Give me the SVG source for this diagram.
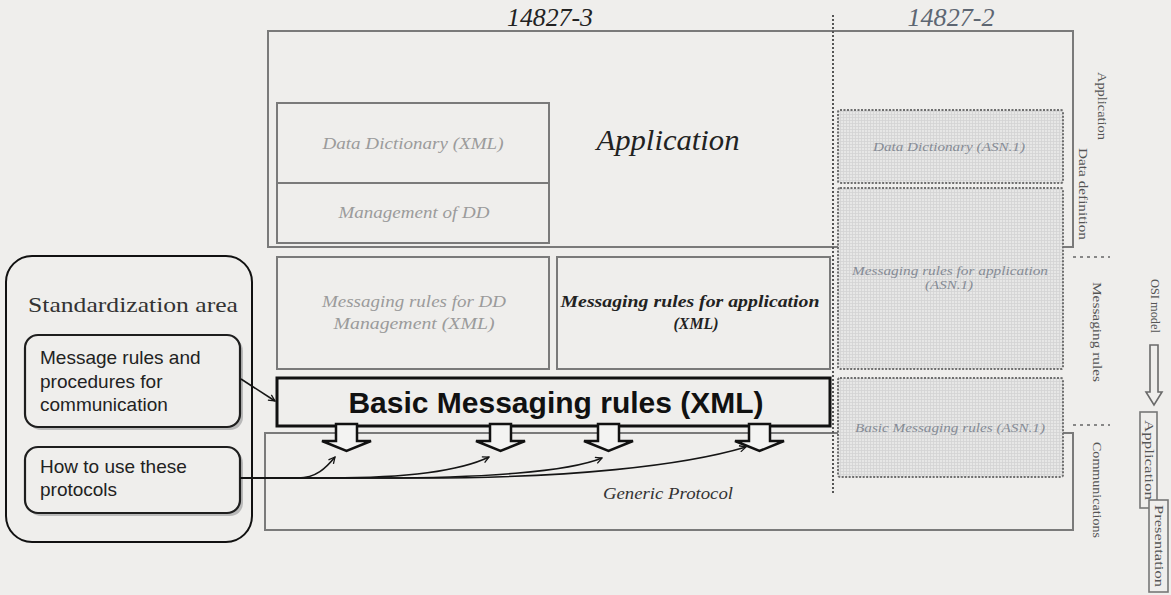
<svg xmlns="http://www.w3.org/2000/svg" width="1171" height="595" viewBox="0 0 1171 595">
  <style>
    .bg { fill: #efeeec; }
    .layer { fill: none; stroke: #7a7a7a; stroke-width: 2; }
    .cell { fill: none; stroke: #7a7a7a; stroke-width: 2; }
    .asn { fill: url(#grid); stroke: #6f6f6f; stroke-width: 2; stroke-dasharray: 2 1.5; }
    .serif { font-family: "Liberation Serif", "DejaVu Serif", serif; }
    .sans { font-family: "Liberation Sans", Arial, sans-serif; }
    .it { font-style: italic; }
    .pale { fill: #9b9b9b; }
    .asntxt { fill: #858b95; font-size: 13px; }
    .dark { fill: #222222; }
    .side { fill: #555555; font-size: 12.5px; }
    .rbox { fill: #efeeec; stroke: #1e1e1e; stroke-width: 2.2; }
    .shadow { fill: #b9b9b9; }
    .blk { fill: #efeeec; stroke: #111111; stroke-width: 3; }
    .down { fill: #f3f3f2; stroke: #111111; stroke-width: 2.5; stroke-linejoin: miter; }
    .link { fill: none; stroke: #151515; stroke-width: 1.6; }
    .tick { fill: none; stroke: #666666; stroke-width: 1.5; stroke-dasharray: 3 4; }
  </style>
  <defs>
    <pattern id="grid" width="3" height="3" patternUnits="userSpaceOnUse">
      <rect width="3" height="3" fill="#e7e7e6"/>
      <path d="M0,0.5 H3 M0.5,0 V3" stroke="#d3d3d3" stroke-width="0.8"/>
    </pattern>
    <marker id="open" viewBox="0 0 10 10" refX="9" refY="5" markerWidth="8" markerHeight="8" markerUnits="userSpaceOnUse" orient="auto">
      <path d="M1,1 L9,5 L1,9" fill="none" stroke="#151515" stroke-width="1.6"/>
    </marker>
  </defs>

  <rect class="bg" x="0" y="0" width="1171" height="595"/>

  <!-- part headings -->
  <g id="headings">
    <text class="serif it dark" x="550" y="26" font-size="26" text-anchor="middle" textLength="86" lengthAdjust="spacingAndGlyphs">14827-3</text>
    <text class="serif it" x="951" y="26" font-size="26" fill="#5d6672" text-anchor="middle" textLength="87" lengthAdjust="spacingAndGlyphs">14827-2</text>
  </g>

  <!-- application layer frame -->
  <g id="application-layer">
    <rect class="layer" x="268" y="31" width="805" height="216"/>
    <text class="serif it dark" x="668" y="150" font-size="30" text-anchor="middle" textLength="143" lengthAdjust="spacingAndGlyphs">Application</text>
  </g>

  <!-- communications layer frame -->
  <g id="generic-protocol">
    <rect class="layer" x="265" y="433" width="808" height="97"/>
    <text class="serif it" x="668" y="499" font-size="16" fill="#333" text-anchor="middle" textLength="130" lengthAdjust="spacingAndGlyphs">Generic Protocol</text>
  </g>

  <!-- 14827-2 / 14827-3 divider -->
  <line id="divider" x1="833" y1="15" x2="833" y2="493" stroke="#555" stroke-width="2" stroke-dasharray="2 2"/>

  <!-- XML column -->
  <g id="dd-xml">
    <rect class="cell" x="277" y="103" width="272" height="80"/>
    <text class="serif it pale" x="413" y="149" font-size="17" text-anchor="middle" textLength="181" lengthAdjust="spacingAndGlyphs">Data Dictionary (XML)</text>
  </g>
  <g id="dd-management">
    <rect class="cell" x="277" y="183" width="272" height="60"/>
    <text class="serif it pale" x="414" y="218" font-size="17" text-anchor="middle" textLength="151" lengthAdjust="spacingAndGlyphs">Management of DD</text>
  </g>
  <g id="msg-dd-xml">
    <rect class="cell" x="277" y="257" width="272" height="112"/>
    <text class="serif it pale" x="414" y="307" font-size="17" text-anchor="middle" textLength="184" lengthAdjust="spacingAndGlyphs">Messaging rules for DD</text>
    <text class="serif it pale" x="414" y="329" font-size="17" text-anchor="middle" textLength="161" lengthAdjust="spacingAndGlyphs">Management (XML)</text>
  </g>
  <g id="msg-app-xml">
    <rect class="cell" x="557" y="257" width="273" height="112"/>
    <text class="serif it dark" x="690" y="307" font-size="17" font-weight="bold" text-anchor="middle" textLength="259" lengthAdjust="spacingAndGlyphs">Messaging rules for application</text>
    <text class="serif it dark" x="696" y="329" font-size="17" font-weight="bold" text-anchor="middle" textLength="45" lengthAdjust="spacingAndGlyphs">(XML)</text>
  </g>
  <g id="basic-xml">
    <rect class="blk" x="277" y="378" width="553" height="48"/>
    <text class="sans" x="556" y="413" font-size="30" font-weight="bold" fill="#111" text-anchor="middle">Basic Messaging rules (XML)</text>
  </g>

  <!-- ASN.1 column -->
  <g id="dd-asn">
    <rect class="asn" x="838" y="110" width="225" height="73" rx="2"/>
    <text class="serif it asntxt" x="949" y="151" text-anchor="middle" textLength="152" lengthAdjust="spacingAndGlyphs">Data Dictionary (ASN.1)</text>
  </g>
  <g id="msg-app-asn">
    <rect class="asn" x="838" y="188" width="225" height="181" rx="2"/>
    <text class="serif it asntxt" x="950" y="275" text-anchor="middle" textLength="196" lengthAdjust="spacingAndGlyphs">Messaging rules for application</text>
    <text class="serif it asntxt" x="949" y="289" text-anchor="middle" textLength="48" lengthAdjust="spacingAndGlyphs">(ASN.1)</text>
  </g>
  <g id="basic-asn">
    <rect class="asn" x="838" y="378" width="225" height="99" rx="2"/>
    <text class="serif it asntxt" x="950" y="432" text-anchor="middle" textLength="190" lengthAdjust="spacingAndGlyphs">Basic Messaging rules (ASN.1)</text>
  </g>

  <!-- layer names along the right edge -->
  <g id="layer-names">
    <text class="serif side" transform="translate(1102,106) rotate(90)" text-anchor="middle" dominant-baseline="central" textLength="68" lengthAdjust="spacingAndGlyphs">Application</text>
    <text class="serif side" transform="translate(1083,194) rotate(90)" text-anchor="middle" dominant-baseline="central" textLength="92" lengthAdjust="spacingAndGlyphs">Data definition</text>
    <path class="tick" d="M1073,257 H1110"/>
    <text class="serif side" transform="translate(1097,332) rotate(90)" text-anchor="middle" dominant-baseline="central" textLength="100" lengthAdjust="spacingAndGlyphs">Messaging rules</text>
    <path class="tick" d="M1073,425 H1110"/>
    <text class="serif side" transform="translate(1097,490) rotate(90)" text-anchor="middle" dominant-baseline="central" textLength="96" lengthAdjust="spacingAndGlyphs">Communications</text>
  </g>

  <!-- OSI model stack -->
  <g id="osi-model">
    <text class="serif side" transform="translate(1155,306) rotate(90)" text-anchor="middle" dominant-baseline="central" textLength="54" lengthAdjust="spacingAndGlyphs">OSI model</text>
    <path d="M1150,345 H1158 V392 H1162 L1154,405 L1146,392 H1150 Z" fill="none" stroke="#6a6a6a" stroke-width="1.6"/>
  </g>
  <g id="osi-application">
    <rect x="1140" y="412" width="17" height="96" fill="#efeeec" stroke="#777" stroke-width="1.6"/>
    <text class="serif side" transform="translate(1148.5,460) rotate(90)" text-anchor="middle" dominant-baseline="central" textLength="80" lengthAdjust="spacingAndGlyphs">Application</text>
  </g>
  <g id="osi-presentation">
    <rect x="1149" y="500" width="19" height="92" fill="#efeeec" stroke="#777" stroke-width="1.6"/>
    <text class="serif side" transform="translate(1158.5,546) rotate(90)" text-anchor="middle" dominant-baseline="central" textLength="82" lengthAdjust="spacingAndGlyphs">Presentation</text>
  </g>

  <!-- standardization area -->
  <g id="standardization-area">
    <rect x="6" y="256" width="246" height="286" rx="26" fill="none" stroke="#111" stroke-width="2"/>
    <text class="serif" x="133" y="312" font-size="22" fill="#333" text-anchor="middle" textLength="210" lengthAdjust="spacingAndGlyphs">Standardization area</text>
  </g>
  <g id="message-rules">
    <rect class="shadow" x="28" y="338" width="215" height="92" rx="13"/>
    <rect class="rbox" x="25" y="335" width="215" height="92" rx="13"/>
    <text class="sans" x="40" y="364" font-size="19" fill="#222">Message rules and</text>
    <text class="sans" x="40" y="388" font-size="19" fill="#222">procedures for</text>
    <text class="sans" x="40" y="411" font-size="19" fill="#222">communication</text>
  </g>
  <g id="how-to-use">
    <rect class="shadow" x="28" y="450" width="215" height="66" rx="13"/>
    <rect class="rbox" x="25" y="447" width="215" height="66" rx="13"/>
    <text class="sans" x="40" y="473" font-size="19" fill="#222">How to use these</text>
    <text class="sans" x="40" y="496" font-size="19" fill="#222">protocols</text>
  </g>

  <!-- connectors -->
  <g id="connectors">
    <!-- block arrows from the basic messaging rules down to the protocol -->
    <path class="down" d="M336,424 H357 V441 H371 L346.5,451 L322,441 H336 Z"/>
    <path class="down" d="M490,424 H511 V441 H525 L500.5,451 L476,441 H490 Z"/>
    <path class="down" d="M598,424 H619 V441 H633 L608.5,451 L584,441 H598 Z"/>
    <path class="down" d="M749,424 H770 V441 H784 L759.5,451 L735,441 H749 Z"/>
    <!-- rules box to basic messaging rules -->
    <path class="link" d="M241,379 L275,401" marker-end="url(#open)"/>
    <!-- protocol usage fanning out to each block arrow -->
    <path class="link" d="M240,478 H298 C316,478 326,468 335,457" marker-end="url(#open)"/>
    <path class="link" d="M240,478 H330 C410,478 462,470 489,457" marker-end="url(#open)"/>
    <path class="link" d="M240,478 H380 C480,478 568,472 602,458" marker-end="url(#open)"/>
    <path class="link" d="M240,478 H420 C570,478 682,466 746,447" marker-end="url(#open)"/>
  </g>
</svg>
